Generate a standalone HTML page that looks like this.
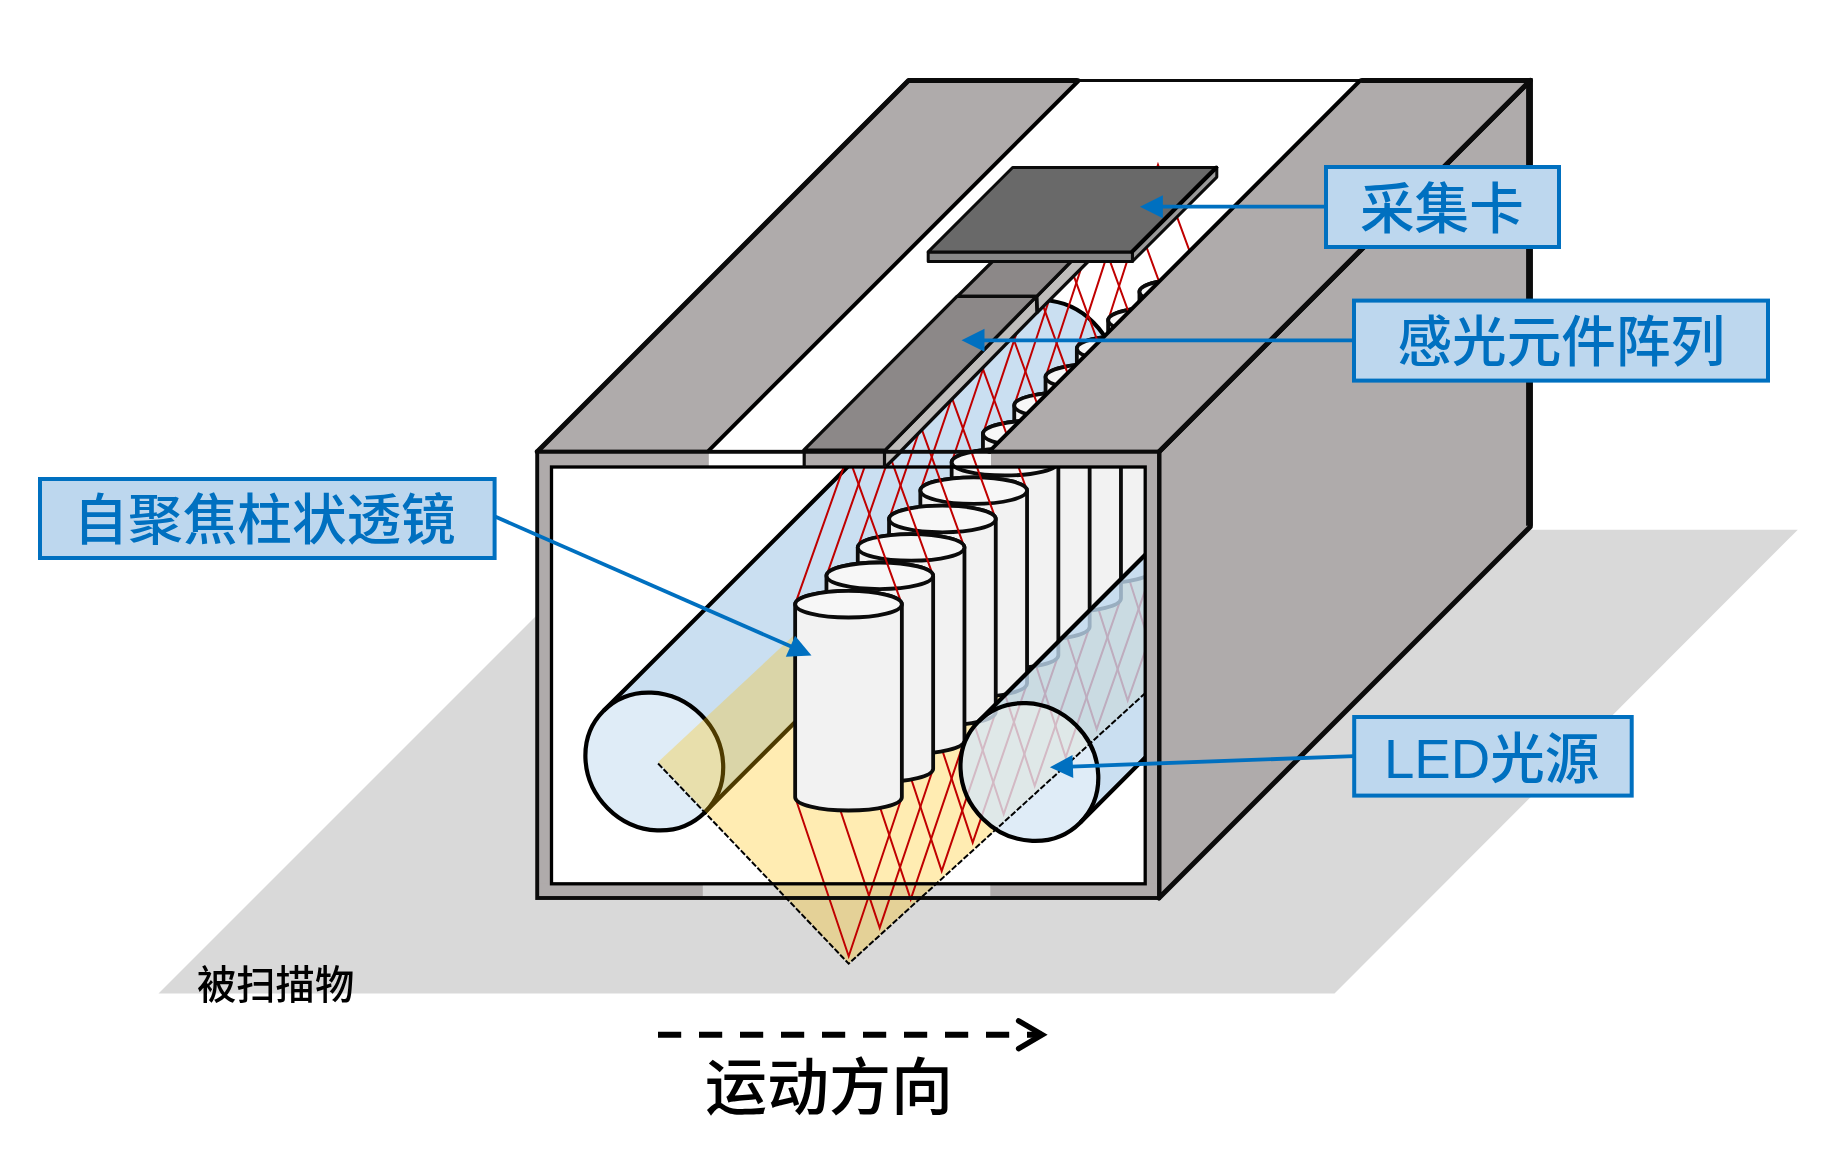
<!DOCTYPE html>
<html lang="zh-CN"><head><meta charset="utf-8"><title>接触式图像传感器结构示意图</title>
<style>html,body{margin:0;padding:0;background:#fff}body{width:1844px;height:1150px;overflow:hidden}svg{display:block;will-change:transform}text{font-family:"Liberation Sans","Noto Sans CJK SC",sans-serif;font-weight:500}</style></head><body>
<svg width="1844" height="1150" viewBox="0 0 1844 1150" role="img" aria-label="接触式图像传感器结构示意图">
<defs>
<clipPath id="cR"><rect x="0" y="0" width="1145.2" height="1150"/></clipPath>
</defs>
<rect width="1844" height="1150" fill="#fff"/>
<polygon points="158.5,993.5 1334.5,993.5 1797.8,529.8 622.2,529.8" fill="#D9D9D9"/>
<polygon points="537.2,451.8 908.5,80.5 1078.8,80.5 707.5,451.8" fill="#AFABAB" stroke="#000" stroke-width="3.9" stroke-linejoin="round"/>
<polyline points="537.2,451.8 908.5,80.5 1076.8,80.5" fill="none" stroke="#0b0b0b" stroke-width="4.8" stroke-linejoin="round" stroke-linecap="round"/>
<line x1="1078.8" y1="80.5" x2="1360.2" y2="80.5" stroke="#0b0b0b" stroke-width="3.2"/>
<rect x="551.5" y="467" width="593.7" height="416.8" fill="#fff"/>
<g><path d="M603.6,710.8 L996,318.4 A71.7,66 45 0 1 1097.4,419.8 L705,812.2 A71.7,66 45 0 0 603.6,710.8 Z" fill="#BDD7EE" fill-opacity="0.8"/><ellipse cx="654.3" cy="761.5" rx="71.7" ry="66" transform="rotate(45 654.3 761.5)" fill="#D7E7F5" fill-opacity="0.8"/><path d="M603.6,710.8 L996,318.4 A71.7,66 45 0 1 1097.4,419.8 L705,812.2" fill="none" stroke="#000" stroke-width="4.2"/><ellipse cx="654.3" cy="761.5" rx="71.7" ry="66" transform="rotate(45 654.3 761.5)" fill="none" stroke="#000" stroke-width="4.2"/></g>
<polygon clip-path="url(#cR)" points="658.1,762 848.7,963.7 1205.2,638.45 1205.2,454.11 988.1,454.11" fill="#FFC000" fill-opacity="0.3"/>
<g clip-path="url(#cR)" stroke="#C00000" stroke-width="2" fill="none" stroke-linejoin="miter"><polyline points="795.15,797.2 848.7,956.2 901.85,797.2"/><polyline points="826.45,768.8 879.7,927.8 933.15,768.8"/><polyline points="857.75,740.4 910.7,899.4 964.45,740.4"/><polyline points="889.05,712 941.7,871 995.75,712"/><polyline points="920.35,683.6 972.7,842.6 1027.05,683.6"/><polyline points="951.65,655.2 1003.7,814.2 1058.35,655.2"/><polyline points="982.95,626.8 1034.7,785.8 1089.65,626.8"/><polyline points="1014.25,598.4 1065.7,757.4 1120.95,598.4"/><polyline points="1045.55,570 1096.7,729 1152.25,570"/><polyline points="1076.85,541.6 1127.7,700.6 1183.55,541.6"/><polyline points="1108.15,513.2 1158.7,672.2 1214.85,513.2"/></g>
<path d="M1139.45,291.8 L1139.45,484.8 A53.35,13.3 0 0 0 1246.15,484.8 L1246.15,291.8 A53.35,13.3 0 0 0 1139.45,291.8 Z" fill="#F2F2F2" stroke="#0b0b0b" stroke-width="3.8" stroke-linejoin="round"/><ellipse cx="1192.8" cy="291.8" rx="53.35" ry="13.3" fill="#F7F7F7" stroke="#0b0b0b" stroke-width="3.8"/>
<polyline points="1108.15,320.2 1158,164.8 1214.85,320.2" fill="none" stroke="#C00000" stroke-width="2"/>
<path d="M1108.15,320.2 L1108.15,513.2 A53.35,13.3 0 0 0 1214.85,513.2 L1214.85,320.2 A53.35,13.3 0 0 0 1108.15,320.2 Z" fill="#F2F2F2" stroke="#0b0b0b" stroke-width="3.8" stroke-linejoin="round"/><ellipse cx="1161.5" cy="320.2" rx="53.35" ry="13.3" fill="#F7F7F7" stroke="#0b0b0b" stroke-width="3.8"/>
<polyline points="1076.85,348.6 1127,193.8 1183.55,348.6" fill="none" stroke="#C00000" stroke-width="2"/>
<path d="M1076.85,348.6 L1076.85,541.6 A53.35,13.3 0 0 0 1183.55,541.6 L1183.55,348.6 A53.35,13.3 0 0 0 1076.85,348.6 Z" fill="#F2F2F2" stroke="#0b0b0b" stroke-width="3.8" stroke-linejoin="round"/><ellipse cx="1130.2" cy="348.6" rx="53.35" ry="13.3" fill="#F7F7F7" stroke="#0b0b0b" stroke-width="3.8"/>
<polyline points="1045.55,377 1096,222.8 1152.25,377" fill="none" stroke="#C00000" stroke-width="2"/>
<path d="M1045.55,377 L1045.55,570 A53.35,13.3 0 0 0 1152.25,570 L1152.25,377 A53.35,13.3 0 0 0 1045.55,377 Z" fill="#F2F2F2" stroke="#0b0b0b" stroke-width="3.8" stroke-linejoin="round"/><ellipse cx="1098.9" cy="377" rx="53.35" ry="13.3" fill="#F7F7F7" stroke="#0b0b0b" stroke-width="3.8"/>
<polyline points="1014.25,405.4 1065,251.8 1120.95,405.4" fill="none" stroke="#C00000" stroke-width="2"/>
<path d="M1014.25,405.4 L1014.25,598.4 A53.35,13.3 0 0 0 1120.95,598.4 L1120.95,405.4 A53.35,13.3 0 0 0 1014.25,405.4 Z" fill="#F2F2F2" stroke="#0b0b0b" stroke-width="3.8" stroke-linejoin="round"/><ellipse cx="1067.6" cy="405.4" rx="53.35" ry="13.3" fill="#F7F7F7" stroke="#0b0b0b" stroke-width="3.8"/>
<polyline points="982.95,433.8 1034,280.8 1089.65,433.8" fill="none" stroke="#C00000" stroke-width="2"/>
<path d="M982.95,433.8 L982.95,626.8 A53.35,13.3 0 0 0 1089.65,626.8 L1089.65,433.8 A53.35,13.3 0 0 0 982.95,433.8 Z" fill="#F2F2F2" stroke="#0b0b0b" stroke-width="3.8" stroke-linejoin="round"/><ellipse cx="1036.3" cy="433.8" rx="53.35" ry="13.3" fill="#F7F7F7" stroke="#0b0b0b" stroke-width="3.8"/>
<polyline points="951.65,462.2 1003,309.8 1058.35,462.2" fill="none" stroke="#C00000" stroke-width="2"/>
<path d="M951.65,462.2 L951.65,655.2 A53.35,13.3 0 0 0 1058.35,655.2 L1058.35,462.2 A53.35,13.3 0 0 0 951.65,462.2 Z" fill="#F2F2F2" stroke="#0b0b0b" stroke-width="3.8" stroke-linejoin="round"/><ellipse cx="1005" cy="462.2" rx="53.35" ry="13.3" fill="#F7F7F7" stroke="#0b0b0b" stroke-width="3.8"/>
<polyline points="920.35,490.6 972,338.8 1027.05,490.6" fill="none" stroke="#C00000" stroke-width="2"/>
<path d="M920.35,490.6 L920.35,683.6 A53.35,13.3 0 0 0 1027.05,683.6 L1027.05,490.6 A53.35,13.3 0 0 0 920.35,490.6 Z" fill="#F2F2F2" stroke="#0b0b0b" stroke-width="3.8" stroke-linejoin="round"/><ellipse cx="973.7" cy="490.6" rx="53.35" ry="13.3" fill="#F7F7F7" stroke="#0b0b0b" stroke-width="3.8"/>
<polyline points="889.05,519 941,367.8 995.75,519" fill="none" stroke="#C00000" stroke-width="2"/>
<path d="M889.05,519 L889.05,712 A53.35,13.3 0 0 0 995.75,712 L995.75,519 A53.35,13.3 0 0 0 889.05,519 Z" fill="#F2F2F2" stroke="#0b0b0b" stroke-width="3.8" stroke-linejoin="round"/><ellipse cx="942.4" cy="519" rx="53.35" ry="13.3" fill="#F7F7F7" stroke="#0b0b0b" stroke-width="3.8"/>
<polyline points="857.75,547.4 910,396.8 964.45,547.4" fill="none" stroke="#C00000" stroke-width="2"/>
<path d="M857.75,547.4 L857.75,740.4 A53.35,13.3 0 0 0 964.45,740.4 L964.45,547.4 A53.35,13.3 0 0 0 857.75,547.4 Z" fill="#F2F2F2" stroke="#0b0b0b" stroke-width="3.8" stroke-linejoin="round"/><ellipse cx="911.1" cy="547.4" rx="53.35" ry="13.3" fill="#F7F7F7" stroke="#0b0b0b" stroke-width="3.8"/>
<polyline points="826.45,575.8 879,425.8 933.15,575.8" fill="none" stroke="#C00000" stroke-width="2"/>
<path d="M826.45,575.8 L826.45,768.8 A53.35,13.3 0 0 0 933.15,768.8 L933.15,575.8 A53.35,13.3 0 0 0 826.45,575.8 Z" fill="#F2F2F2" stroke="#0b0b0b" stroke-width="3.8" stroke-linejoin="round"/><ellipse cx="879.8" cy="575.8" rx="53.35" ry="13.3" fill="#F7F7F7" stroke="#0b0b0b" stroke-width="3.8"/>
<polyline points="795.15,604.2 848,454.8 901.85,604.2" fill="none" stroke="#C00000" stroke-width="2"/>
<path d="M795.15,604.2 L795.15,797.2 A53.35,13.3 0 0 0 901.85,797.2 L901.85,604.2 A53.35,13.3 0 0 0 795.15,604.2 Z" fill="#F2F2F2" stroke="#0b0b0b" stroke-width="3.8" stroke-linejoin="round"/><ellipse cx="848.5" cy="604.2" rx="53.35" ry="13.3" fill="#F7F7F7" stroke="#0b0b0b" stroke-width="3.8"/>
<polygon points="1036.8,296.4 1077.4,255 1094.6,255 1037.4,312.4" fill="#BFBDBB" stroke="#0b0b0b" stroke-width="3.3" stroke-linejoin="round"/>
<polygon points="957.4,296.4 999,255 1077.4,255 1036.8,296.4" fill="#8C8888" stroke="#0b0b0b" stroke-width="3.3" stroke-linejoin="round"/>
<polygon points="885.2,450.2 1036.4,296.4 1036.9,312.6 886.3,466" fill="#BFBDBB" stroke="#0b0b0b" stroke-width="3.3" stroke-linejoin="round"/>
<polygon points="803.8,450.2 957,296.4 1036.4,296.4 885.2,450.2" fill="#8C8888" stroke="#0b0b0b" stroke-width="3.3" stroke-linejoin="round"/>
<polygon points="1132.4,251.9 1216.8,167.5 1216.8,177.1 1132.4,261.5" fill="#999999" stroke="#0b0b0b" stroke-width="3" stroke-linejoin="round"/>
<polygon points="928.2,251.9 1132.4,251.9 1132.4,261.5 928.2,261.5" fill="#898989" stroke="#0b0b0b" stroke-width="3" stroke-linejoin="round"/>
<polygon points="928.2,251.9 1012.6,167.5 1216.8,167.5 1132.4,251.9" fill="#696969" stroke="#0b0b0b" stroke-width="3" stroke-linejoin="round"/>
<line x1="1131.9" y1="251.9" x2="1216.3" y2="167.5" stroke="#000" stroke-width="4.0" stroke-linecap="round"/>
<polygon points="1159,451.8 1530.3,80.5 1530.3,526.7 1159,898" fill="#AFABAB" stroke="#0b0b0b" stroke-width="5" stroke-linejoin="round"/>
<line x1="1529.4" y1="78.1" x2="1529.4" y2="525.7" stroke="#0b0b0b" stroke-width="6.6"/>
<polygon points="988.9,451.8 1360.2,80.5 1530.3,80.5 1159,451.8" fill="#AFABAB" stroke="#000" stroke-width="3.9" stroke-linejoin="round"/>
<polyline points="1362.2,80.5 1530.3,80.5 1159,451.8" fill="none" stroke="#0b0b0b" stroke-width="5" stroke-linejoin="round" stroke-linecap="round"/>
<rect x="537.2" y="451.8" width="14.3" height="446.2" fill="#AFABAB"/>
<rect x="1145.2" y="451.8" width="13.8" height="446.2" fill="#AFABAB"/>
<rect x="537.2" y="451.8" width="171.6" height="15.2" fill="#AFABAB"/>
<rect x="804.2" y="451.8" width="80.3" height="15.2" fill="#AFABAB"/>
<rect x="991" y="451.8" width="168" height="15.2" fill="#AFABAB"/>
<rect x="537.2" y="883.8" width="165.6" height="14.2" fill="#AFABAB"/>
<rect x="990.3" y="883.8" width="168.7" height="14.2" fill="#AFABAB"/>
<polygon points="884.5,451.8 900,451.8 884.5,467.6" fill="#BFBDBB"/>
<line x1="900.6" y1="452" x2="884.9" y2="467.4" stroke="#0b0b0b" stroke-width="3.3"/>
<g clip-path="url(#cR)"><path d="M978.7,721.3 L1178.7,521.3 A71.7,66 45 0 1 1280.1,622.7 L1080.1,822.7 A71.7,66 45 0 0 978.7,721.3 Z" fill="#BDD7EE" fill-opacity="0.8"/><ellipse cx="1029.4" cy="772" rx="71.7" ry="66" transform="rotate(45 1029.4 772)" fill="#D7E7F5" fill-opacity="0.8"/><path d="M978.7,721.3 L1178.7,521.3 A71.7,66 45 0 1 1280.1,622.7 L1080.1,822.7" fill="none" stroke="#000" stroke-width="4.2"/><ellipse cx="1029.4" cy="772" rx="71.7" ry="66" transform="rotate(45 1029.4 772)" fill="none" stroke="#000" stroke-width="4.2"/></g>
<rect x="551.5" y="467" width="593.7" height="416.8" fill="none" stroke="#000" stroke-width="3.3"/>
<rect x="537.2" y="451.8" width="621.8" height="446.2" fill="none" stroke="#0b0b0b" stroke-width="3.9"/>
<line x1="804.2" y1="451.8" x2="804.2" y2="467" stroke="#0b0b0b" stroke-width="3.2"/>
<line x1="884.5" y1="451.8" x2="884.5" y2="467" stroke="#0b0b0b" stroke-width="3.2"/>
<polyline points="658.1,763.5 848.7,963.7 1145.2,693.2" fill="none" stroke="#000" stroke-width="2" stroke-dasharray="6 2"/>
<line x1="658" y1="1034.7" x2="1042" y2="1034.7" stroke="#000" stroke-width="6" stroke-dasharray="23.2 17.8"/>
<polyline points="1018.6,1020.8 1042.3,1034.7 1018.6,1048.6" fill="none" stroke="#000" stroke-width="5.4" stroke-linecap="round" stroke-linejoin="miter"/>
<line x1="1326" y1="206.7" x2="1160.9" y2="206.7" stroke="#0070C0" stroke-width="3.8"/><polygon points="1139.9,206.7 1162.9,195.2 1162.9,218.2" fill="#0070C0"/>
<line x1="1354" y1="340.3" x2="982.5" y2="340.3" stroke="#0070C0" stroke-width="3.8"/><polygon points="961.5,340.3 984.5,328.8 984.5,351.8" fill="#0070C0"/>
<line x1="1354" y1="756.2" x2="1070.89" y2="766.53" stroke="#0070C0" stroke-width="3.8"/><polygon points="1049.9,767.3 1072.47,754.97 1073.3,777.95" fill="#0070C0"/>
<line x1="495" y1="516.5" x2="792.27" y2="647.06" stroke="#0070C0" stroke-width="3.8"/><polygon points="811.5,655.5 785.82,656.78 795.07,635.72" fill="#0070C0"/>
<rect x="1326" y="167" width="233" height="80" fill="#BDD7EE" stroke="#0070C0" stroke-width="4.0"/><text opacity="0.999" x="1360" y="228" font-size="54.6" fill="#0070C0">采集卡</text>
<rect x="1354" y="300.6" width="414" height="80" fill="#BDD7EE" stroke="#0070C0" stroke-width="4.0"/><text opacity="0.999" x="1397.5" y="361" font-size="54.6" fill="#0070C0">感光元件阵列</text>
<rect x="40" y="479" width="454.6" height="79" fill="#BDD7EE" stroke="#0070C0" stroke-width="4.0"/><text opacity="0.999" x="73.5" y="538.5" font-size="54.6" fill="#0070C0">自聚焦柱状透镜</text>
<rect x="1354.2" y="717" width="277.5" height="78.6" fill="#BDD7EE" stroke="#0070C0" stroke-width="4.0"/><text opacity="0.999" x="1384" y="778" font-size="54.6" fill="#0070C0">LED光源</text>
<text opacity="0.999" x="197" y="999" font-size="39.3" fill="#000">被扫描物</text>
<text opacity="0.999" x="705" y="1110" font-size="62" fill="#000">运动方向</text>
</svg></body></html>
